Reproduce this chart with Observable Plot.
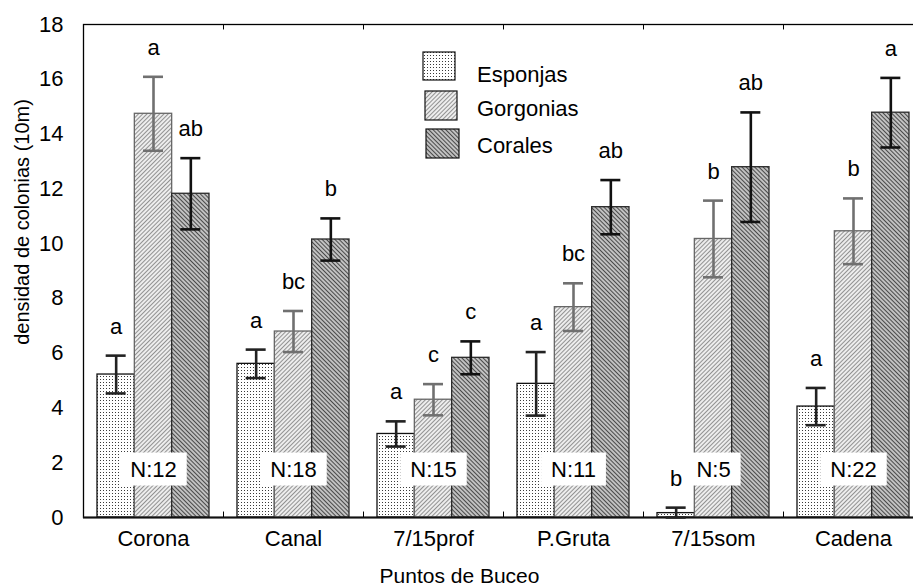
<!DOCTYPE html>
<html><head><meta charset="utf-8">
<script src="https://cdn.jsdelivr.net/npm/d3@7"></script>
<script src="https://cdn.jsdelivr.net/npm/@observablehq/plot@0.6"></script>
<style>
html,body{margin:0;padding:0;background:#fff;overflow:hidden;}
#wrap{position:relative;width:913px;height:587px;overflow:hidden;background:#fff;}
#overlay{position:absolute;left:0;top:0;pointer-events:none;}
</style></head><body>
<div id="wrap">
<svg id="overlay" width="913" height="587" xmlns="http://www.w3.org/2000/svg">
<defs>
<pattern id="pEsp" width="3" height="3" patternUnits="userSpaceOnUse"><rect width="3" height="3" fill="#fff"/><rect x="1" y="1" width="1" height="1" fill="#3a3a3a"/></pattern>
<pattern id="pGor" width="3" height="3" patternUnits="userSpaceOnUse" patternTransform="rotate(45)"><rect width="3" height="3" fill="#f2f2f2"/><line x1="1.5" y1="0" x2="1.5" y2="3" stroke="#929292" stroke-width="1.1"/></pattern>
<pattern id="pCor" width="3" height="3" patternUnits="userSpaceOnUse" patternTransform="rotate(-45)"><rect width="3" height="3" fill="#d6d6d6"/><line x1="1.5" y1="0" x2="1.5" y2="3" stroke="#4a4a4a" stroke-width="1.3"/></pattern>
</defs>
<g id="legend" font-family="'Liberation Sans', Arial, sans-serif" font-size="22"></g>
</svg>
</div>
<script>
// ---- data ----
const sites = ["Corona", "Canal", "7/15prof", "P.Gruta", "7/15som", "Cadena"];
const seriesNames = ["Esponjas", "Gorgonias", "Corales"];
const esponjas    = [5.22, 5.61, 3.05, 4.88, 0.16, 4.05];
const esponjasErr = [0.69, 0.52, 0.46, 1.16, 0.20, 0.68];
const gorgonias    = [14.74, 6.79, 4.30, 7.68, 10.17, 10.45];
const gorgoniasErr = [1.35, 0.75, 0.57, 0.87, 1.40, 1.20];
const corales    = [11.82, 10.15, 5.83, 11.33, 12.79, 14.78];
const coralesErr = [1.30, 0.77, 0.60, 0.99, 2.00, 1.27];
const esponjasLetters  = ["a", "a", "a", "a", "b", "a"];
const gorgoniasLetters = ["a", "bc", "c", "bc", "b", "b"];
const coralesLetters   = ["ab", "b", "c", "ab", "ab", "a"];
const nLabels = ["N:12", "N:18", "N:15", "N:11", "N:5", "N:22"];
const yTicks = [0, 2, 4, 6, 8, 10, 12, 14, 16, 18];

// ---- layout ----
const W = 913, H = 587, mL = 83, mR = -10, mT = 24, mB = 70;
const step = (W - mL - mR) / sites.length;
const outer = 0.1, barFrac = 0.8 / 3;
function insets(j, shrink = 0) {
  const l = step * (outer + j * barFrac);
  const r = step - step * (outer + (j + 1) * barFrac);
  return {insetLeft: l + shrink, insetRight: r + shrink};
}
function center(j) { return step * (outer + (j + 0.5) * barFrac) - step / 2; }

const defs = [
  {values: esponjas, errs: esponjasErr, letters: esponjasLetters, fill: "url(#pEsp)", stroke: "#111", err: "#222"},
  {values: gorgonias, errs: gorgoniasErr, letters: gorgoniasLetters, fill: "url(#pGor)", stroke: "#666", err: "#707070"},
  {values: corales, errs: coralesErr, letters: coralesLetters, fill: "url(#pCor)", stroke: "#2a2a2a", err: "#111"}
];
const rowsOf = d => sites.map((s, i) => ({site: s, v: d.values[i], e: d.errs[i], l: d.letters[i]}));

const marks = [Plot.frame({stroke: "#000", strokeWidth: 1.3})];
defs.forEach((d, j) => {
  marks.push(Plot.barY(rowsOf(d), {x: "site", y: "v", fill: d.fill, stroke: d.stroke, strokeWidth: 1.3, ...insets(j)}));
});
marks.push(Plot.ruleY([0], {stroke: "#111", strokeWidth: 2}));
marks.push(Plot.ruleX(sites.slice(1), {x: s => s, dx: -step / 2, y1: 0, y2: 0.2, stroke: "#000", strokeWidth: 1}));
marks.push(Plot.ruleX(sites.slice(1), {x: s => s, dx: -step / 2, y1: 18, y2: 17.8, stroke: "#000", strokeWidth: 1}));
defs.forEach((d, j) => {
  const rows = rowsOf(d);
  marks.push(Plot.ruleX(rows, {x: "site", y1: r => Math.max(0, r.v - r.e), y2: r => r.v + r.e, dx: center(j), stroke: d.err, strokeWidth: 2.6}));
  marks.push(Plot.tickY(rows, {x: "site", y: r => r.v + r.e, ...insets(j, 8.67), stroke: d.err, strokeWidth: 2.6}));
  marks.push(Plot.tickY(rows, {x: "site", y: r => Math.max(0, r.v - r.e), ...insets(j, 8.67), stroke: d.err, strokeWidth: 2.6}));
  marks.push(Plot.text(rows, {x: "site", y: r => r.v + r.e, text: "l", dx: center(j), dy: -29, fontSize: 22, fill: "#000"}));
});
marks.push(Plot.text(sites.map((s, i) => ({site: s, n: nLabels[i]})), {x: "site", y: 0, dy: -48, text: "n", fontSize: 22, fill: "#000"}));
marks.push(Plot.text(["densidad de colonias (10m)"], {frameAnchor: "left", textAnchor: "middle", lineAnchor: "middle", dx: -61, dy: -49, rotate: -90, fontSize: 20, fill: "#000"}));
marks.push(Plot.text(["Puntos de Buceo"], {frameAnchor: "bottom", textAnchor: "middle", lineAnchor: "middle", dx: -44, dy: 59, fontSize: 21, fill: "#000"}));

const chart = Plot.plot({
  width: W, height: H,
  marginLeft: mL, marginRight: mR, marginTop: mT, marginBottom: mB,
  style: {fontFamily: "'Liberation Sans', Arial, sans-serif", fontSize: "22px", background: "white", color: "#000", overflow: "hidden"},
  x: {domain: sites, padding: 0, tickSize: 0, tickPadding: 13, label: null},
  y: {domain: [0, 18], ticks: yTicks, tickSize: 0, tickPadding: 20, label: null},
  marks
});
const wrap = document.getElementById("wrap");
wrap.insertBefore(chart, wrap.firstChild);

// white boxes behind N labels
chart.querySelectorAll("text").forEach(t => {
  if (!/^N:/.test(t.textContent)) return;
  const b = t.getBBox();
  const r = document.createElementNS("http://www.w3.org/2000/svg", "rect");
  r.setAttribute("x", b.x - 10); r.setAttribute("y", b.y - 4);
  r.setAttribute("width", b.width + 20); r.setAttribute("height", b.height + 8);
  r.setAttribute("fill", "#fff");
  if (t.getAttribute("transform")) r.setAttribute("transform", t.getAttribute("transform"));
  t.parentNode.insertBefore(r, t);
});

// legend
const legendBoxes = [
  {x: 423, y: 52, w: 32, h: 28, ty: 74},
  {x: 425, y: 91, w: 32, h: 29, ty: 108},
  {x: 426, y: 129, w: 33, h: 29, ty: 145}
];
const lg = d3.select("#legend");
seriesNames.forEach((name, j) => {
  const b = legendBoxes[j];
  lg.append("rect").attr("x", b.x).attr("y", b.y).attr("width", b.w).attr("height", b.h)
    .attr("fill", defs[j].fill).attr("stroke", "#111").attr("stroke-width", 1.2);
  lg.append("text").attr("x", 477).attr("y", b.ty).attr("dy", "0.35em").attr("fill", "#000").text(name);
});
</script>
</body></html>
